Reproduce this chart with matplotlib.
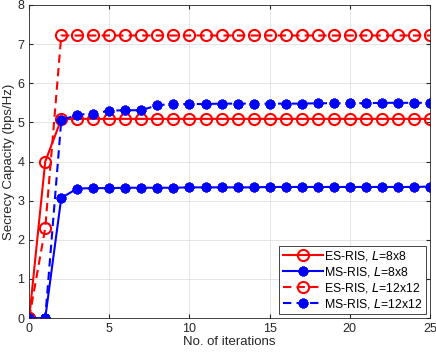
import numpy as np
import matplotlib.pyplot as plt

plt.rcParams['font.family'] = ['Liberation Sans', 'DejaVu Sans']

iterations = np.arange(0, 26)

es_8x8 = [0, 4.0, 5.08, 5.09, 5.09, 5.09, 5.09, 5.09, 5.09, 5.09, 5.09, 5.09, 5.09,
          5.09, 5.09, 5.09, 5.09, 5.09, 5.09, 5.09, 5.09, 5.09, 5.09, 5.09, 5.09, 5.09]
ms_8x8 = [0, 0, 3.07, 3.31, 3.32, 3.32, 3.33, 3.33, 3.33, 3.33, 3.34, 3.34, 3.34,
          3.34, 3.34, 3.35, 3.35, 3.35, 3.35, 3.35, 3.35, 3.35, 3.35, 3.35, 3.35, 3.36]
es_12x12 = [0, 2.3, 7.22, 7.22, 7.22, 7.22, 7.22, 7.22, 7.22, 7.22, 7.22, 7.22, 7.22,
            7.22, 7.22, 7.22, 7.22, 7.22, 7.22, 7.22, 7.22, 7.22, 7.22, 7.22, 7.22, 7.22]
ms_12x12 = [0, 0, 5.05, 5.2, 5.22, 5.3, 5.31, 5.31, 5.44, 5.47, 5.47, 5.47, 5.48,
            5.48, 5.48, 5.48, 5.48, 5.48, 5.49, 5.49, 5.49, 5.49, 5.5, 5.5, 5.5, 5.5]

labels = ['ES-RIS, $\\mathit{L}$=8x8', 'MS-RIS, $\\mathit{L}$=8x8',
          'ES-RIS, $\\mathit{L}$=12x12', 'MS-RIS, $\\mathit{L}$=12x12']

fig = plt.figure(figsize=(4.36, 3.55), dpi=100)
ax = fig.add_axes([0.067, 0.104, 0.919, 0.882])

dash = (0, (4, 2.5))
star = (8, 2, 0)
ax.plot(iterations, es_8x8, color='red', lw=1.5, marker='o', ms=8, mfc='none', mew=1.5, label=labels[0])
ax.plot(iterations, ms_8x8, color='blue', lw=1.5, marker=star, ms=7, mew=2.2, label=labels[1])
ax.plot(iterations, es_12x12, color='red', lw=1.5, ls=dash, marker='o', ms=8, mfc='none', mew=1.5, label=labels[2])
ax.plot(iterations, ms_12x12, color='blue', lw=1.5, ls=dash, marker=star, ms=7, mew=2.2, label=labels[3])

ax.set_xlim(0, 25)
ax.set_ylim(0, 8)
ax.set_xticks([0, 5, 10, 15, 20, 25])
ax.set_yticks(range(0, 9))
ax.grid(True, color='#e0e0e0', lw=0.6)
ax.set_axisbelow(True)
ax.tick_params(direction='in', top=True, right=True, labelsize=9, length=3, colors='#262626')
for s in ax.spines.values():
    s.set_color('#262626')
    s.set_linewidth(0.6)

ax.set_xlabel('No. of iterations', fontsize=9.5, color='#262626', labelpad=1)
ax.set_ylabel('Secrecy Capacity (bps/Hz)', fontsize=9.5, color='#262626', labelpad=2)

leg = ax.legend(loc='lower right', fontsize=8.8, handlelength=3.3, handletextpad=0.1,
                borderpad=0.3, labelspacing=0.15, fancybox=False, framealpha=1,
                borderaxespad=0.3)
leg.get_frame().set_edgecolor('#262626')
leg.get_frame().set_linewidth(0.6)

fig.savefig('out.png', dpi=100)
